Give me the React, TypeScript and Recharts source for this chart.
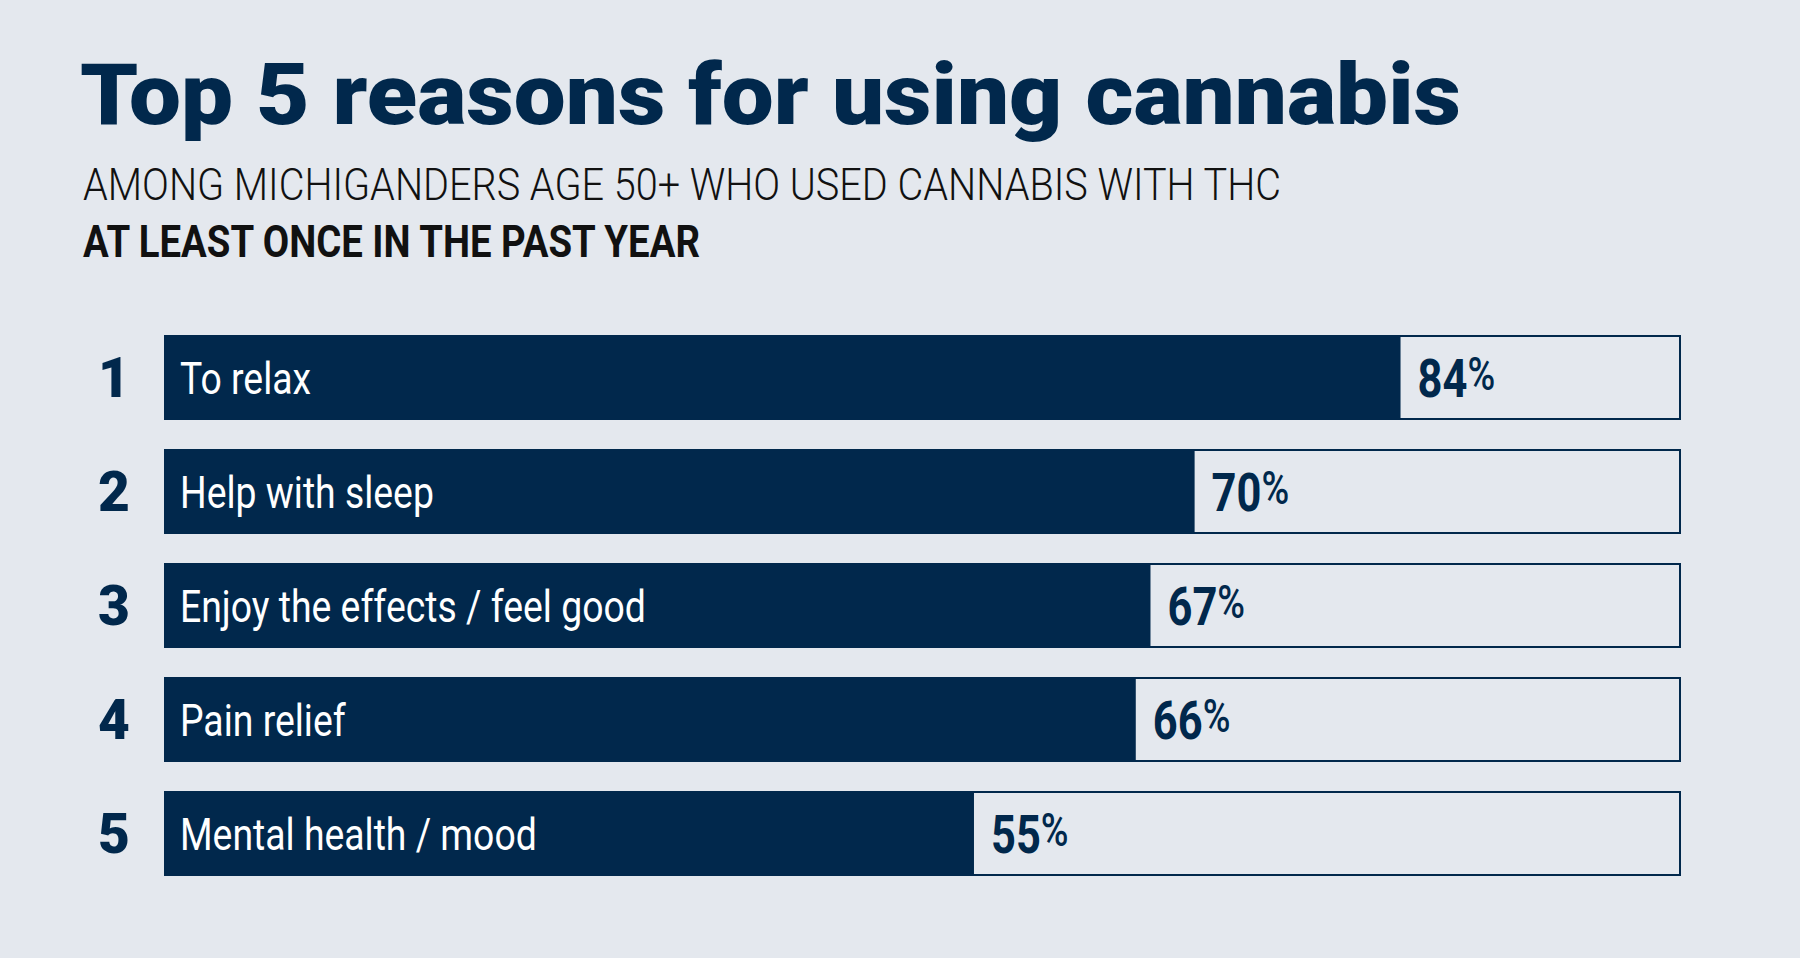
import React from 'react';
import { BarChart, Bar, XAxis, YAxis, LabelList } from 'recharts';

// Chart data
const ranks = ['1', '2', '3', '4', '5'];
const reasons = ['To relax', 'Help with sleep', 'Enjoy the effects / feel good', 'Pain relief', 'Mental health / mood'];
const shares = [84, 70, 67, 66, 55];

const TITLE = 'Top 5 reasons for using cannabis';
const SUBTITLE_1 = 'AMONG MICHIGANDERS AGE 50+ WHO USED CANNABIS WITH THC';
const SUBTITLE_2 = 'AT LEAST ONCE IN THE PAST YEAR';

const NAVY = '#01284c';
const BG = '#e4e8ee';
const FONT = 'Roboto, "Liberation Sans", sans-serif';

const data = reasons.map((reason, i) => ({ rank: ranks[i], reason, share: shares[i] }));

// rank number left of each bar
const RankTick = (props: any) => {
  const { y, index } = props;
  return (
    <text x={114} y={y + 20} textAnchor="middle" fontFamily={FONT} fontWeight={900} fontSize={55} fill={NAVY}>
      {data[index]?.rank}
    </text>
  );
};

// reason text inside the bar
const ReasonLabel = (props: any) => {
  const { x, y, height, value } = props;
  const cy = y + height / 2;
  return (
    <text
      transform={`translate(${x + 15},${cy + 16}) scale(0.83,1)`}
      fontFamily={FONT}
      fontWeight={400}
      fontSize={45}
      fill="#ffffff"
    >
      {value}
    </text>
  );
};

// percentage after the end of the bar
const ShareLabel = (props: any) => {
  const { x, y, width, height, value } = props;
  const cy = y + height / 2;
  return (
    <text
      transform={`translate(${x + width + 17},${cy + 19}) scale(0.82,1)`}
      fontFamily={FONT}
      fontWeight={700}
      fontSize={53}
      fill={NAVY}
    >
      {value}
      <tspan fontSize={46} fontWeight={500} dy={-7}>%</tspan>
    </text>
  );
};

export default function App() {
  return (
    <div style={{ position: 'absolute', left: 0, top: 0, width: 1800, height: 958, background: BG, overflow: 'hidden' }}>
      <svg width={1800} height={300} style={{ position: 'absolute', left: 0, top: 0 }}>
        <text x={80} y={124} fontFamily={FONT} fontWeight={900} fontSize={86} fill={NAVY}
          textLength={1381} lengthAdjust="spacingAndGlyphs">
          {TITLE}
        </text>
        <text x={83} y={200} fontFamily={FONT} fontWeight={300} fontSize={44} fill="#111111"
          textLength={1198} lengthAdjust="spacingAndGlyphs">
          {SUBTITLE_1}
        </text>
        <text x={83} y={257} fontFamily={FONT} fontWeight={700} fontSize={45} fill="#111111"
          textLength={617} lengthAdjust="spacingAndGlyphs">
          {SUBTITLE_2}
        </text>
      </svg>
      <div style={{ position: 'absolute', left: 0, top: 320 }}>
        <BarChart
          width={1800}
          height={570}
          layout="vertical"
          data={data}
          margin={{ top: 0, right: 120, bottom: 0, left: 0 }}
        >
          <XAxis type="number" domain={[0, 103]} hide />
          <YAxis
            type="category"
            dataKey="reason"
            width={165}
            axisLine={false}
            tickLine={false}
            tick={<RankTick />}
          />
          <Bar
            dataKey="share"
            fill={NAVY}
            barSize={83}
            isAnimationActive={false}
            background={{ fill: BG, stroke: NAVY, strokeWidth: 2 }}
          >
            <LabelList dataKey="reason" content={<ReasonLabel />} />
            <LabelList dataKey="share" content={<ShareLabel />} />
          </Bar>
        </BarChart>
      </div>
    </div>
  );
}
